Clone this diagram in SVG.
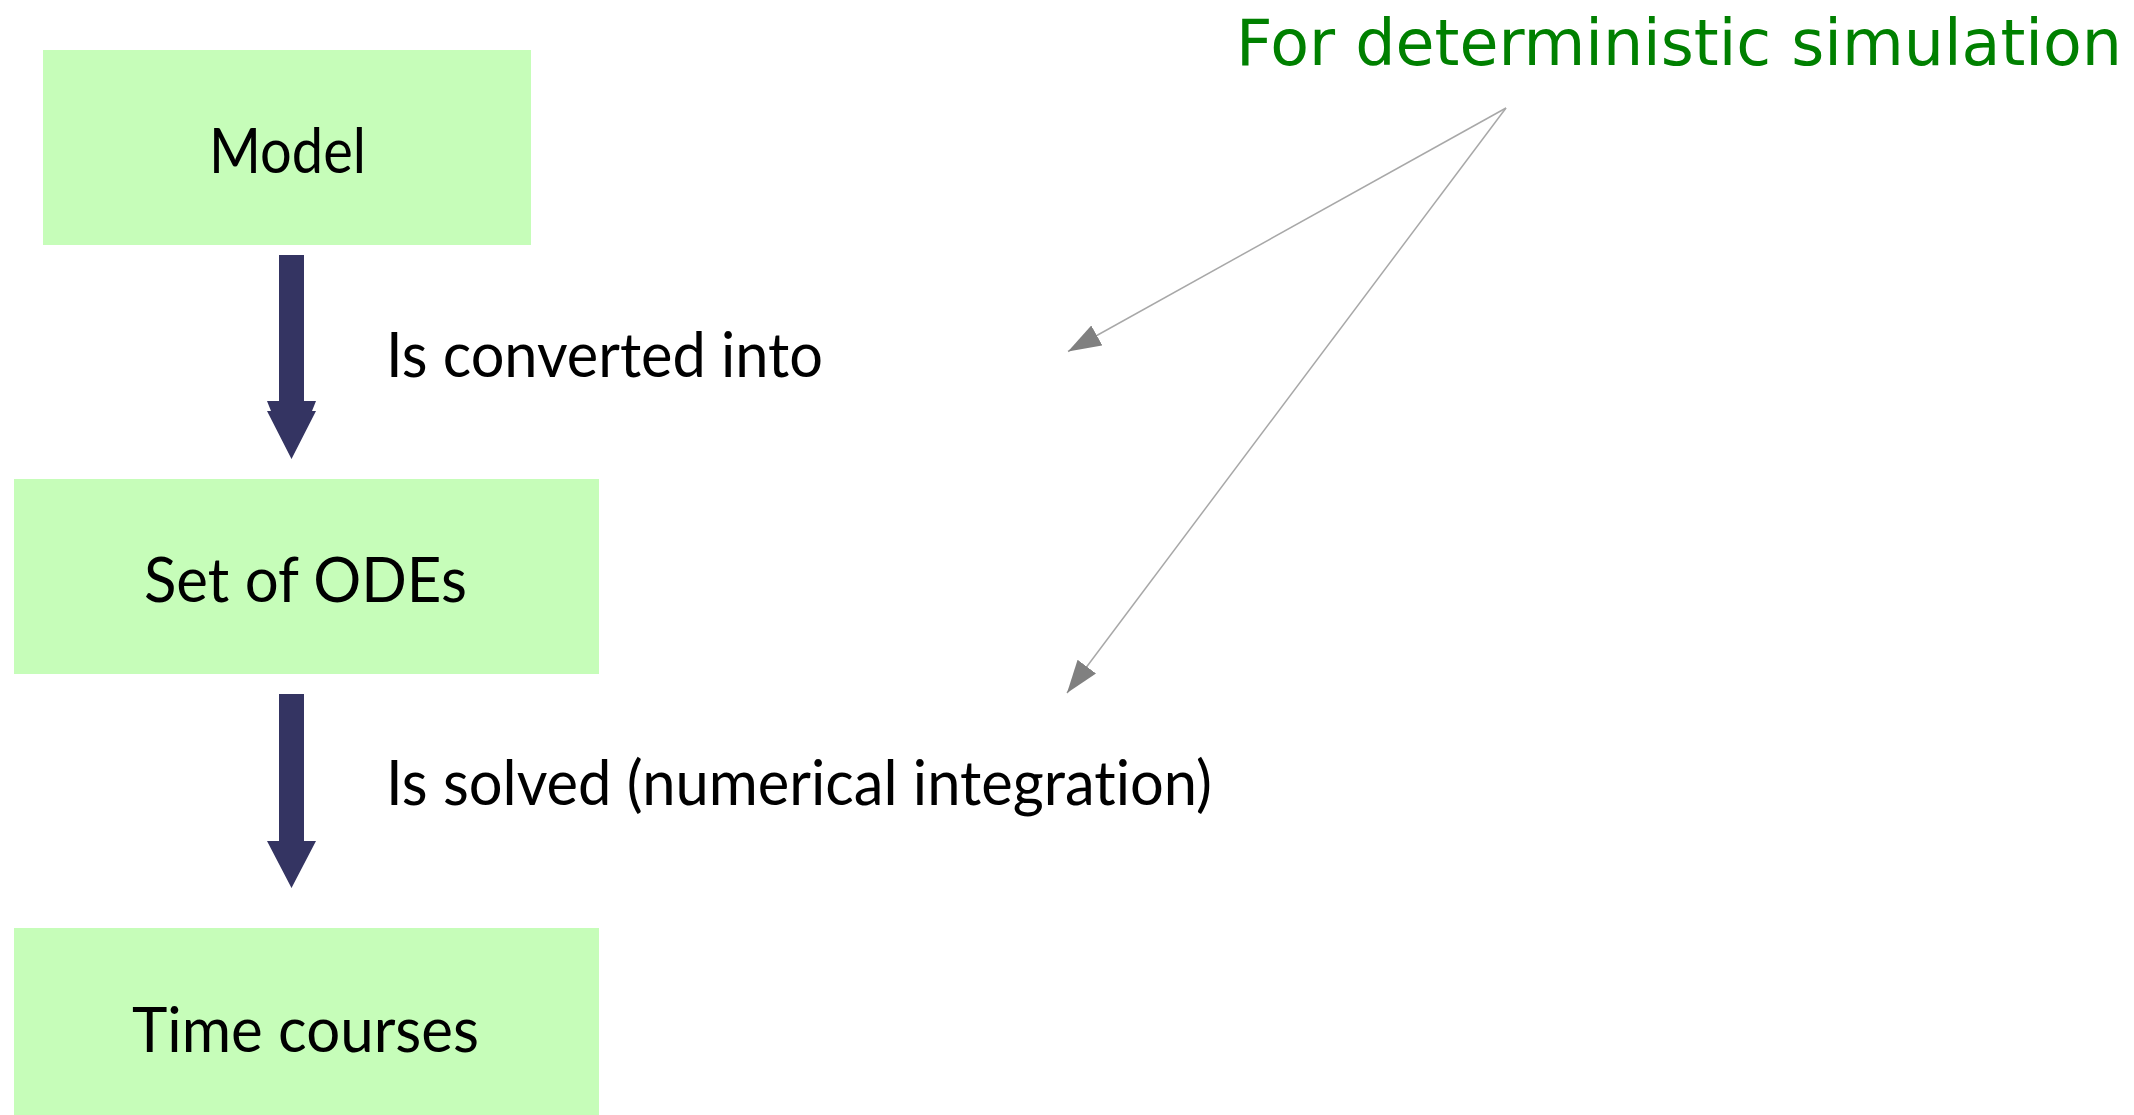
<svg xmlns="http://www.w3.org/2000/svg" width="2134" height="1115" viewBox="0 0 2134 1115">
<style>
.box{fill:#c6fdb9}
.lbl{font-family:Lato,"Open Sans","Liberation Sans",sans-serif;font-size:62px;fill:#000;font-variant-ligatures:none}
.note{font-family:"DejaVu Sans","Liberation Sans",sans-serif;font-size:64px;fill:#008000}
.flow{fill:#343462}
.ptr{stroke:#a8a8a8;stroke-width:1.5;fill:none}
</style>
<defs>
<marker id="gh" markerUnits="userSpaceOnUse" markerWidth="34" markerHeight="24" viewBox="0 0 34 24" refX="33" refY="11.5" orient="auto">
<path d="M0,0 L33,11.5 L0,23 Z" fill="#808080"/>
</marker>
</defs>
<rect width="2134" height="1115" fill="#fff"/>
<g id="model">
<rect class="box" x="43" y="50" width="488" height="195"/>
<text class="lbl" x="209" y="173" textLength="157" lengthAdjust="spacingAndGlyphs">Model</text>
</g>
<g id="odes">
<rect class="box" x="14" y="479" width="585" height="195"/>
<text class="lbl" x="144" y="602" textLength="323" lengthAdjust="spacingAndGlyphs">Set of ODEs</text>
</g>
<g id="timecourses">
<rect class="box" x="14" y="928" width="585" height="187"/>
<text class="lbl" x="132" y="1052" textLength="347" lengthAdjust="spacingAndGlyphs">Time courses</text>
</g>
<g id="note">
<text class="note" x="1236" y="65" textLength="886" lengthAdjust="spacingAndGlyphs">For deterministic simulation</text>
</g>
<g id="connectors">
<path class="flow" d="M279,255 H304 V401 H316 L312,411 H316 L291.5,459 L267,411 H271 L267,401 H279 Z"/>
<text class="lbl" x="386" y="377" textLength="437" lengthAdjust="spacingAndGlyphs">Is converted into</text>
<path class="flow" d="M279,694 H304 V841 H316 L291.5,888 L267,841 H279 Z"/>
<text class="lbl" x="386" y="805" textLength="826" lengthAdjust="spacingAndGlyphs">Is solved (numerical integration)</text>
<line class="ptr" x1="1506" y1="108" x2="1068" y2="351.5" marker-end="url(#gh)"/>
<line class="ptr" x1="1506" y1="108" x2="1067" y2="693" marker-end="url(#gh)"/>
</g>
</svg>
